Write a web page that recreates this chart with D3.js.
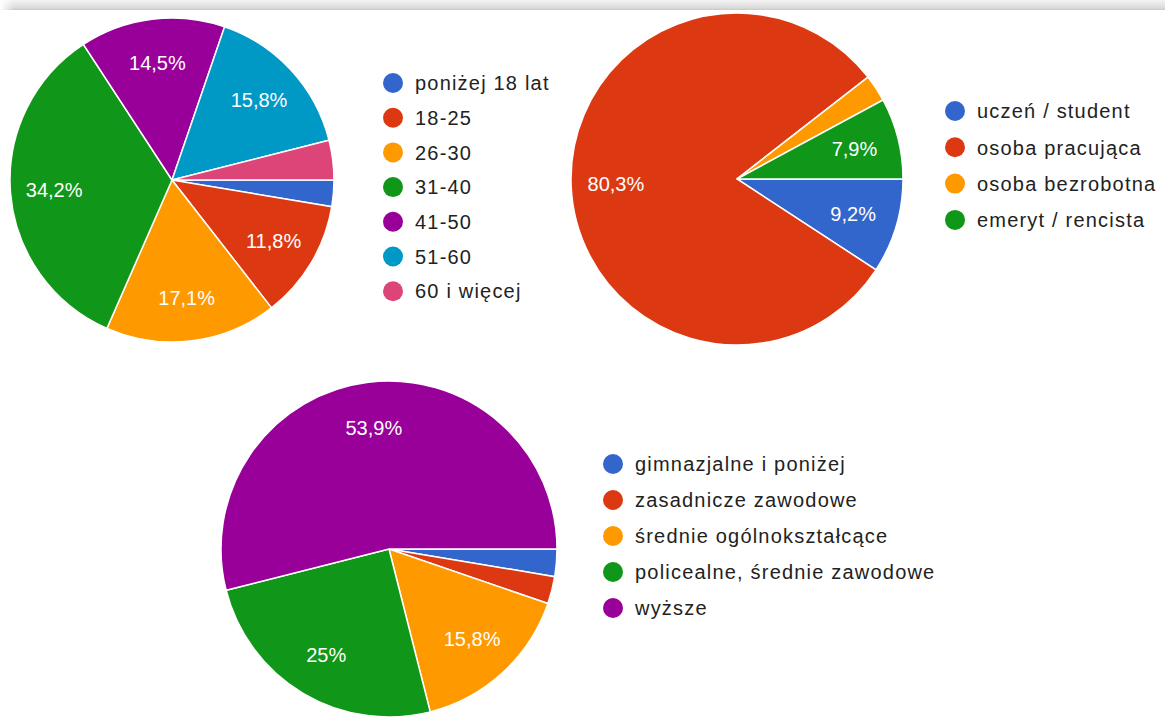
<!DOCTYPE html>
<html>
<head>
<meta charset="utf-8">
<script src="https://cdn.jsdelivr.net/npm/d3@7"></script>
<style>
  body { margin: 0; background: #fff; }
  svg { display: block; font-family: "Liberation Sans", Arial, sans-serif; }
</style>
</head>
<body>
<svg id="chart" width="1165" height="724"></svg>
<script>
// counts out of 76 answers
var ageLabels = ["poniżej 18 lat", "18-25", "26-30", "31-40", "41-50", "51-60", "60 i więcej"];
var ageValues = [2, 9, 13, 26, 11, 12, 3];

var jobLabels = ["uczeń / student", "osoba pracująca", "osoba bezrobotna", "emeryt / rencista"];
var jobValues = [7, 61, 2, 6];

var eduLabels = ["gimnazjalne i poniżej", "zasadnicze zawodowe", "średnie ogólnokształcące", "policealne, średnie zawodowe", "wyższe"];
var eduValues = [2, 2, 12, 19, 41];

var palette = ["#3366cc", "#dc3912", "#ff9900", "#109618", "#990099", "#0099c6", "#dd4477"];

var svg = d3.select("#chart");

// thin shadow strip along the top edge
var defs = svg.append("defs");
var grad = defs.append("linearGradient").attr("id", "topShade")
    .attr("x1", 0).attr("y1", 0).attr("x2", 0).attr("y2", 1);
grad.append("stop").attr("offset", "0%").attr("stop-color", "#f4f4f4");
grad.append("stop").attr("offset", "80%").attr("stop-color", "#dadada");
grad.append("stop").attr("offset", "100%").attr("stop-color", "#c8c8c8");
var gradL = defs.append("linearGradient").attr("id", "leftFade")
    .attr("x1", 0).attr("y1", 0).attr("x2", 1).attr("y2", 0);
gradL.append("stop").attr("offset", "0%").attr("stop-color", "#fff").attr("stop-opacity", 1);
gradL.append("stop").attr("offset", "100%").attr("stop-color", "#fff").attr("stop-opacity", 0);
svg.append("rect").attr("x", 0).attr("y", 0).attr("width", 1165).attr("height", 10).attr("fill", "url(#topShade)");
svg.append("rect").attr("x", 0).attr("y", 0).attr("width", 14).attr("height", 10).attr("fill", "url(#leftFade)");

function drawPie(labels, values, cx, cy, r, legX, legY, legStep) {
    var total = d3.sum(values);
    var data = labels.map(function(d, i) { return { name: d, value: values[i], color: palette[i] }; });

    var pie = d3.pie()
        .sort(null)
        .startAngle(Math.PI / 2)
        .endAngle(Math.PI / 2 + 2 * Math.PI)
        .value(function(d) { return d.value; });

    var arc = d3.arc().innerRadius(0).outerRadius(r);
    var labelArc = d3.arc().innerRadius(r * 0.73).outerRadius(r * 0.73);

    var g = svg.append("g").attr("transform", "translate(" + cx + "," + cy + ")");
    var slices = g.selectAll(".arc").data(pie(data)).enter().append("g").attr("class", "arc");

    slices.append("path")
        .attr("d", arc)
        .attr("fill", function(d) { return d.data.color; })
        .attr("stroke", "#fff")
        .attr("stroke-width", 1.5);

    slices.filter(function(d) { return d.data.value / total > 0.05; })
        .append("text")
        .attr("transform", function(d) { return "translate(" + labelArc.centroid(d) + ")"; })
        .attr("text-anchor", "middle")
        .attr("dy", "0.36em")
        .attr("fill", "#fff")
        .style("font-size", "20px")
        .text(function(d) {
            var p = d.data.value / total * 100;
            return d3.format(".1f")(p).replace(".0", "").replace(".", ",") + "%";
        });

    var leg = svg.append("g").attr("transform", "translate(" + legX + "," + legY + ")");
    var rows = leg.selectAll(".row").data(data).enter().append("g")
        .attr("transform", function(d, i) { return "translate(0," + i * legStep + ")"; });
    rows.append("circle").attr("r", 10).attr("fill", function(d) { return d.color; });
    rows.append("text")
        .attr("x", 22)
        .attr("dy", "0.36em")
        .attr("fill", "#222")
        .style("font-size", "20px")
        .style("letter-spacing", "1.2px")
        .text(function(d) { return d.name; });
}

drawPie(ageLabels, ageValues, 172, 180, 162, 393, 83, 34.7);
drawPie(jobLabels, jobValues, 737, 179, 166, 955, 111, 36.3);
drawPie(eduLabels, eduValues, 389, 549, 168, 613, 464, 36);
</script>
</body>
</html>
